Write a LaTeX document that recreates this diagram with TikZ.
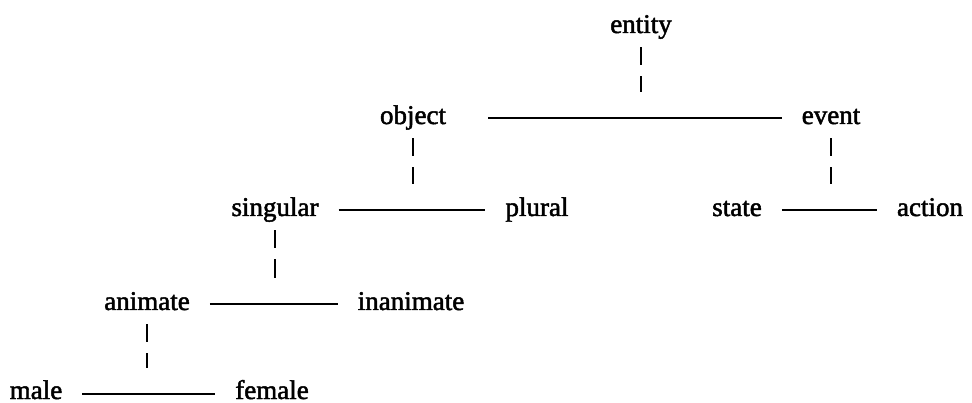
\documentclass[tikz,border=0pt]{standalone}
\usepackage{fontspec}
\setmainfont{Liberation Serif}[FakeBold=1.8, AutoFakeBold=1.8]
\usetikzlibrary{calc}
\tikzset{
  word/.style={anchor=base, inner xsep=20pt, inner ysep=0pt, text height=17pt,
               text depth=6pt, font=\fontsize{27}{30}\selectfont},
  link/.style={line width=2pt},
  drop/.style={line width=2pt, dash pattern=on 18pt off 11pt on 60pt off 1pt,
               shorten <=8pt, shorten >=26pt},
}

\begin{document}
\begin{tikzpicture}[x=1pt, y=-1pt]
    \useasboundingbox (0,0) rectangle (972,403);

    \node[word] (entity) at (641,33) {entity};
    \node[word] (object) at (413,124) {object};
    \node[word] (event) at (831,124) {event};
    \node[word] (singular) at (275,216) {singular};
    \node[word] (plural) at (537,216) {plural};
    \node[word] (state) at (737,216) {state};
    \node[word] (action) at (930,216) {action};
    \node[word] (animate) at (147,310) {animate};
    \node[word] (inanimate) at (411,310) {inanimate};
    \node[word] (male) at (36,399) {male};
    \node[word] (female) at (272,399) {female};

    \draw[link, shorten <=22pt] (object.east) -- (event.west);
    \draw[link] (singular.east) -- (plural.west);
    \draw[link] (state.east) -- (action.west);
    \draw[link] (animate.east) -- (inanimate.west);
    \draw[link] (male.east) -- (female.west);

    \draw[drop] (entity.south) -- (entity.south |- object.east);
    \draw[drop] (object.south) -- (object.south |- singular.east);
    \draw[drop] (event.south) -- (event.south |- state.east);
    \draw[drop] (singular.south) -- (singular.south |- animate.east);
    \draw[drop] (animate.south) -- (animate.south |- male.east);
  \end{tikzpicture}
\end{document}
